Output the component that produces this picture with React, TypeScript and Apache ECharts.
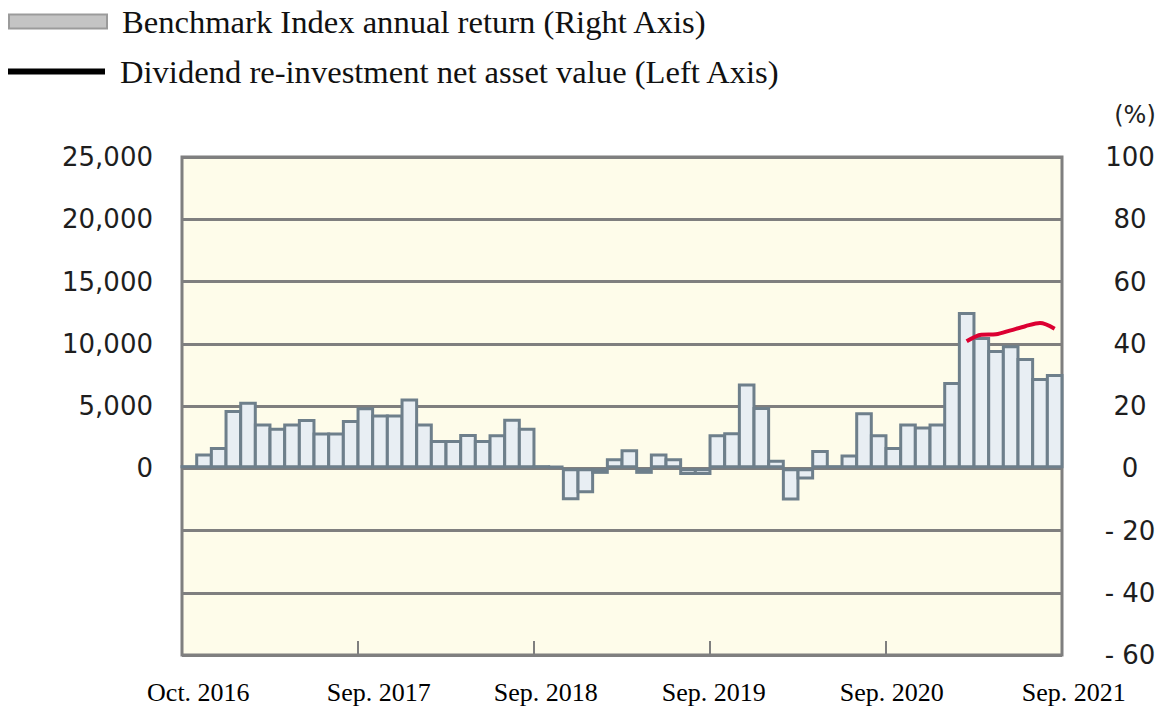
import React, { useEffect, useRef } from 'react';
import * as echarts from 'echarts';

const monthNames = ['Jan', 'Feb', 'Mar', 'Apr', 'May', 'Jun', 'Jul', 'Aug', 'Sep', 'Oct', 'Nov', 'Dec'];
const categories: string[] = [];
for (let i = 0; i < 60; i++) {
  const m = (9 + i) % 12;
  const y = 2016 + Math.floor((9 + i) / 12);
  categories.push(`${monthNames[m]}. ${y}`);
}

const xTickLabels = ['Oct. 2016', 'Sep. 2017', 'Sep. 2018', 'Sep. 2019', 'Sep. 2020', 'Sep. 2021'];
const yearTickIndices = [12, 24, 36, 48];

// Benchmark Index annual return (%), right axis, Oct 2016 .. Sep 2021
const benchmarkReturn = [
  1.0, 4.7, 6.8, 18.7, 21.4, 14.4, 13.0, 14.4, 15.8, 11.5, 11.5, 15.5,
  19.6, 17.3, 17.3, 22.4, 14.4, 9.1, 9.1, 11.0, 9.1, 10.9, 15.9, 13.0,
  1.0, 0.8, -10.3, -8.0, -1.8, 3.2, 6.1, -1.8, 4.7, 3.2, -2.2, -2.2,
  10.9, 11.6, 27.2, 19.7, 2.7, -10.4, -3.6, 5.9, 1.0, 4.4, 18.0, 10.9,
  6.8, 14.4, 13.4, 14.4, 27.7, 50.2, 42.2, 38.0, 39.5, 35.4, 29.0, 30.3,
];

// Dividend re-investment NAV (left axis), only from Mar 2021
const navValues: (number | null)[] = [
  ...new Array(53).fill(null),
  10200, 10730, 10760, 11080, 11410, 11670, 11210,
];

const leftAxisTicks = { min: -15000, max: 25000, interval: 5000 };
const rightAxisTicks = { min: -60, max: 100, interval: 20 };

const BENCH = 'Benchmark Index annual return (Right Axis)';
const NAV = 'Dividend re-investment net asset value (Left Axis)';

// layout-only horizontal nudges for the x labels (px)
const labelShift = [9, 28, 19, 11, 13, 19];

export default function App() {
  const ref = useRef<HTMLDivElement>(null);
  useEffect(() => {
    if (!ref.current) return;
    const chart = echarts.init(ref.current, undefined, { renderer: 'svg' });
    const rich: Record<string, any> = {};
    labelShift.forEach((s, k) => {
      rich['s' + k] = {
        fontFamily: 'Liberation Serif',
        fontSize: 26,
        color: '#000',
        padding: [0, 0, 0, s * 2],
      };
    });
    const legendText = { fontFamily: 'Liberation Serif', fontSize: 32.6, color: '#111', padding: [0, 0, 0, 10] };
    const option: any = {
      animation: false,
      backgroundColor: '#fff',
      legend: [
        {
          data: [{ name: BENCH, icon: 'rect', itemStyle: { color: '#c4c4c4', borderColor: '#9b9b9b', borderWidth: 2 } }],
          left: 8,
          top: 5,
          padding: 0,
          itemWidth: 98,
          itemHeight: 14,
          selectedMode: false,
          textStyle: legendText,
        },
        {
          data: [{ name: NAV, icon: 'rect', itemStyle: { color: '#000', borderWidth: 0 } }],
          left: 8,
          top: 55,
          padding: 0,
          itemWidth: 97,
          itemHeight: 6,
          selectedMode: false,
          textStyle: legendText,
        },
      ],
      grid: {
        left: 182,
        right: 107,
        top: 157,
        bottom: 58,
        show: true,
        backgroundColor: '#FEFCEA',
        borderColor: '#7f7f7f',
        borderWidth: 3,
      },
      graphic: [
        {
          type: 'text',
          x: 1135,
          y: 115,
          style: {
            text: '(%)',
            fontFamily: 'DejaVu Sans',
            fontSize: 24,
            fill: '#222',
            textAlign: 'center',
            textVerticalAlign: 'middle',
          },
        },
      ],
      xAxis: {
        type: 'category',
        data: categories,
        boundaryGap: true,
        axisLine: { show: false, onZero: false },
        axisTick: {
          show: true,
          inside: true,
          length: 14,
          interval: (index: number) => yearTickIndices.includes(index),
          lineStyle: { color: '#7f7f7f', width: 2 },
        },
        axisLabel: {
          interval: (index: number, value: string) => xTickLabels.includes(value),
          margin: 24,
          formatter: (value: string) => {
            const k = xTickLabels.indexOf(value);
            return k >= 0 ? `{s${k}|${value}}` : '';
          },
          rich,
        },
        splitLine: { show: false },
      },
      yAxis: [
        {
          type: 'value',
          position: 'left',
          ...leftAxisTicks,
          axisLine: { show: false },
          axisTick: { show: false },
          axisLabel: {
            margin: 29,
            fontFamily: 'DejaVu Sans',
            fontSize: 26,
            color: '#1e1e1e',
            formatter: (v: number) => (v < 0 ? '' : v.toLocaleString('en-US')),
          },
          splitLine: { show: true, lineStyle: { color: '#7f7f7f', width: 3 } },
        },
        {
          type: 'value',
          position: 'right',
          ...rightAxisTicks,
          axisLine: { show: false },
          axisTick: { show: false },
          axisLabel: {
            margin: 68,
            align: 'center',
            fontFamily: 'DejaVu Sans',
            fontSize: 26,
            color: '#1e1e1e',
            formatter: (v: number) => (v < 0 ? '- ' + -v : String(v)),
          },
          splitLine: { show: false },
        },
      ],
      series: [
        {
          name: BENCH,
          type: 'bar',
          yAxisIndex: 1,
          data: benchmarkReturn,
          barWidth: '120%',
          itemStyle: { color: '#E8EEF3', borderColor: '#6E7F8B', borderWidth: 3 },
        },
        {
          name: NAV,
          type: 'line',
          yAxisIndex: 0,
          data: navValues,
          smooth: 0.3,
          showSymbol: false,
          symbol: 'none',
          lineStyle: { color: '#DC0032', width: 4 },
          itemStyle: { color: '#000' },
          z: 5,
        },
      ],
    };
    chart.setOption(option);
    return () => chart.dispose();
  }, []);
  return <div ref={ref} style={{ position: 'fixed', left: 0, top: 0, width: 1169, height: 713 }} />;
}
